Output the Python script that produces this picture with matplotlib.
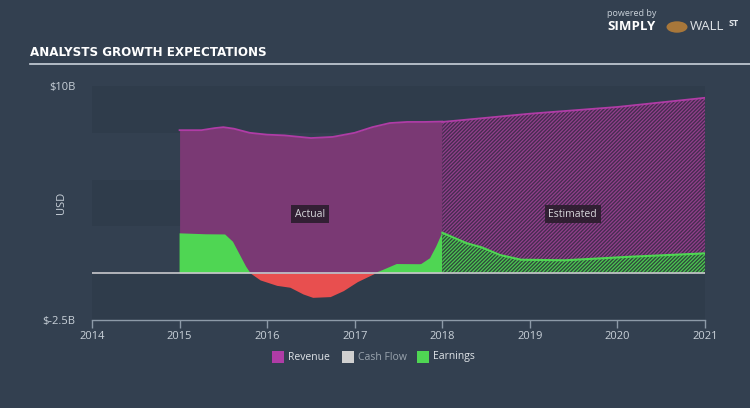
import matplotlib
matplotlib.use("Agg")
import matplotlib.pyplot as plt
from matplotlib.patches import Rectangle, Circle

# ---------------- data (USD billions) ----------------
rev_years_actual = [2015.0, 2015.25, 2015.4, 2015.5, 2015.62, 2015.8, 2016.0, 2016.2,
                    2016.5, 2016.75, 2017.0, 2017.2, 2017.4, 2017.6, 2017.8, 2018.0]
rev_actual = [7.64, 7.64, 7.75, 7.80, 7.72, 7.50, 7.40, 7.36,
              7.22, 7.28, 7.50, 7.80, 8.02, 8.08, 8.08, 8.10]

rev_years_est = [2018.0, 2019.0, 2020.0, 2021.0]
rev_est = [8.08, 8.52, 8.88, 9.37]

earn_years_actual = [2015.0, 2015.3, 2015.52, 2015.61, 2015.69, 2015.76, 2015.81,
                     2015.92, 2016.11, 2016.26, 2016.41, 2016.52, 2016.72, 2016.87,
                     2017.03, 2017.23, 2017.32, 2017.48, 2017.74, 2017.76, 2017.86,
                     2017.93, 2018.0]
earn_actual = [2.13, 2.08, 2.07, 1.68, 0.97, 0.35, 0.0,
               -0.36, -0.65, -0.75, -1.11, -1.29, -1.25, -0.93,
               -0.45, 0.0, 0.17, 0.49, 0.48, 0.49, 0.80,
               1.42, 2.16]

earn_years_est = [2018.0, 2018.28, 2018.45, 2018.66, 2018.9, 2019.4, 2020.15, 2021.0]
earn_est = [2.16, 1.60, 1.38, 0.97, 0.72, 0.69, 0.88, 1.06]

year_ticks = [2014, 2015, 2016, 2017, 2018, 2019, 2020, 2021]
y_ticks = [10, -2.5]
y_ticklabels = ["\\$10B", "\\$-2.5B"]
legend_labels = ["Revenue", "Cash Flow", "Earnings"]

# ---------------- style ----------------
BG = "#334050"
BAND = "#2f3c4b"
REV_FILL = "#7a3974"
REV_LINE = "#b03ca6"
REV_HATCH_BG = "#452c50"
REV_HATCH = "#923f8b"
GREEN = "#4fd653"
GREEN_HATCH_BG = "#2f4a3c"
GREEN_HATCH = "#4cc851"
RED = "#e84f4f"
TXT = "#c9d1d9"

plt.rcParams["font.family"] = ["Open Sans", "DejaVu Sans"]
plt.rcParams["hatch.linewidth"] = 0.9

fig = plt.figure(figsize=(7.5, 4.08), dpi=100, facecolor=BG)
ax = fig.add_axes([92 / 750, 1 - 320 / 408, (705 - 92) / 750, (320 - 86) / 408])
ax.set_facecolor(BG)

ax.set_xlim(2014, 2021)
ax.set_ylim(-2.5, 10)

# background bands
for lo, hi in [(7.5, 10), (2.5, 5), (-2.5, 0)]:
    ax.axhspan(lo, hi, color=BAND, lw=0, zorder=0)

# revenue actual
ax.fill_between(rev_years_actual, 0, rev_actual, color=REV_FILL, lw=0, zorder=2)
# revenue estimated (hatched)
ax.fill_between(rev_years_est, 0, rev_est, facecolor=REV_HATCH_BG, edgecolor=REV_HATCH,
                hatch="/" * 9, lw=0, zorder=2)
ax.plot(rev_years_actual, rev_actual, color=REV_LINE, lw=1.3, zorder=5)
ax.plot(rev_years_est, rev_est, color=REV_LINE, lw=1.3, zorder=5)

# earnings actual
ax.fill_between(earn_years_actual, 0, earn_actual, where=[v >= 0 for v in earn_actual],
                interpolate=True, color=GREEN, lw=0, zorder=3)
ax.fill_between(earn_years_actual, 0, earn_actual, where=[v <= 0 for v in earn_actual],
                interpolate=True, color=RED, lw=0, zorder=3)
# earnings estimated (hatched)
ax.fill_between(earn_years_est, 0, earn_est, facecolor=GREEN_HATCH_BG, edgecolor=GREEN_HATCH,
                hatch="/" * 9, lw=0, zorder=3)
ax.plot(earn_years_est, earn_est, color=GREEN, lw=1.5, zorder=5)

# zero line
ax.axhline(0, color="#c8c8cc", lw=1.2, zorder=6)

# labels in chart
ax.text(2016.49, 3.16, "Actual", ha="center", va="center", fontsize=7.5, color="#d8d8dc",
        zorder=7, bbox=dict(boxstyle="square,pad=0.35", fc="#2b1d2d", ec="none", alpha=0.9))
ax.text(2019.49, 3.16, "Estimated", ha="center", va="center", fontsize=7.5, color="#d8d8dc",
        zorder=7, bbox=dict(boxstyle="square,pad=0.35", fc="#2b1d2d", ec="none", alpha=0.9))

# axes styling
for s in ["top", "right", "left"]:
    ax.spines[s].set_visible(False)
ax.spines["bottom"].set_color("#8d9aa8")
ax.spines["bottom"].set_linewidth(1.0)
ax.set_xticks(year_ticks)
ax.set_xticklabels([str(y) for y in year_ticks])
ax.tick_params(axis="x", colors="#8d9aa8", labelcolor=TXT, labelsize=8, length=6, width=1, pad=2)
ax.set_yticks(y_ticks)
ax.set_yticklabels(y_ticklabels)
ax.tick_params(axis="y", length=0, labelcolor=TXT, labelsize=8, pad=12)
ax.set_ylabel("USD", color=TXT, fontsize=8, labelpad=4)
ax.yaxis.set_label_coords(-0.04, 0.5)

# title
fig.text(30 / 750, 1 - 53 / 408, "ANALYSTS GROWTH EXPECTATIONS", fontsize=9.5,
         fontweight="bold", color="white", va="center", ha="left",
         family=["DejaVu Sans"], fontstretch="condensed")
fig.add_artist(plt.Line2D([30 / 750, 1.0], [1 - 64 / 408, 1 - 64 / 408],
                          color="#c9d1d9", lw=1.2, transform=fig.transFigure))

# legend
leg_y = 1 - 357 / 408
sq = 12 / 750
sqh = 12 / 408
items = [(272, REV_LINE, legend_labels[0], "#e0e4e8"),
         (342, "#d0d0d0", legend_labels[1], "#9aa4ae"),
         (417, GREEN, legend_labels[2], "#e0e4e8")]
for x, c, lab, tc in items:
    fig.add_artist(Rectangle((x / 750, leg_y - sqh / 2), sq, sqh, transform=fig.transFigure,
                             facecolor=c, edgecolor="none"))
    fig.text((x + 16) / 750, leg_y, lab, color=tc, fontsize=7.5, va="center", ha="left")

# logo
fig.text(607 / 750, 1 - 14 / 408, "powered by", color="#c9d1d9", fontsize=6.5,
         va="center", ha="left")
fig.text(607 / 750, 1 - 27 / 408, "SIMPLY", color="white", fontsize=9.5, fontweight="bold",
         va="center", ha="left")
fig.add_artist(Circle((677 / 750, 1 - 27 / 408), 0.014, transform=fig.transFigure,
                      facecolor="#a8773a", edgecolor="none"))
fig.text(690 / 750, 1 - 27 / 408, "WALL", color="#e0e4e8", fontsize=9.5,
         va="center", ha="left")
fig.text(729 / 750, 1 - 23 / 408, "ST", color="#e0e4e8", fontsize=6.5, fontweight="bold",
         va="center", ha="left")

fig.savefig("out.png", dpi=100, facecolor=BG)
